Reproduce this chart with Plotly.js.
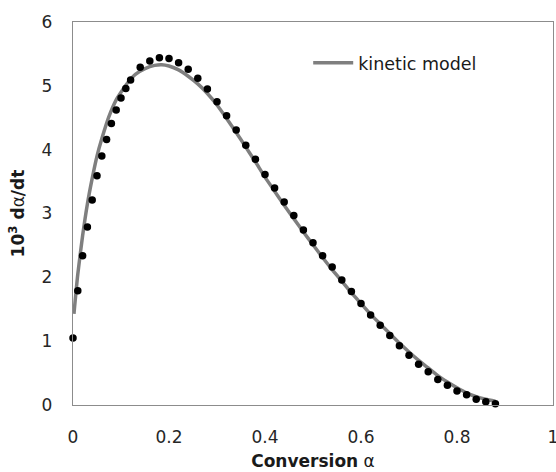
<!DOCTYPE html>
<html>
<head>
<meta charset="utf-8">
<script src="https://cdn.plot.ly/plotly-3.0.1.min.js"></script>
<style>html,body{margin:0;padding:0;background:#fff;}#chart{width:556px;height:472px;}</style>
</head>
<body>
<div id="chart"></div>
<script>
// experimental points
const alphaExp = [0, 0.01, 0.02, 0.03, 0.04, 0.05, 0.06, 0.07, 0.08, 0.09, 0.10, 0.11, 0.12,
  0.14, 0.16, 0.18, 0.20, 0.22, 0.24, 0.26, 0.28, 0.30, 0.32, 0.34, 0.36, 0.38, 0.40,
  0.42, 0.44, 0.46, 0.48, 0.50, 0.52, 0.54, 0.56, 0.58, 0.60, 0.62, 0.64, 0.66, 0.68,
  0.70, 0.72, 0.74, 0.76, 0.78, 0.80, 0.82, 0.84, 0.86, 0.88];
const rateExp = [1.05, 1.79, 2.34, 2.79, 3.21, 3.59, 3.90, 4.16, 4.41, 4.62, 4.81, 4.96, 5.09,
  5.29, 5.39, 5.44, 5.43, 5.36, 5.26, 5.12, 4.95, 4.75, 4.53, 4.31, 4.07, 3.85, 3.61,
  3.40, 3.18, 2.97, 2.74, 2.54, 2.34, 2.16, 1.96, 1.78, 1.59, 1.41, 1.25, 1.09, 0.93,
  0.78, 0.64, 0.52, 0.40, 0.31, 0.22, 0.16, 0.09, 0.05, 0.02];

// kinetic model curve
const alphaModel = [0.002, 0.01, 0.02, 0.03, 0.04, 0.05, 0.06, 0.075, 0.09, 0.10, 0.115, 0.13,
  0.15, 0.17, 0.185, 0.20, 0.22, 0.24, 0.26, 0.28, 0.30, 0.32, 0.34, 0.36, 0.38, 0.40,
  0.42, 0.44, 0.46, 0.48, 0.50, 0.52, 0.54, 0.56, 0.58, 0.60, 0.62, 0.64, 0.66, 0.68,
  0.70, 0.72, 0.74, 0.76, 0.78, 0.80, 0.82, 0.84, 0.86, 0.88];
const rateModel = [1.43, 2.05, 2.65, 3.15, 3.55, 3.90, 4.17, 4.52, 4.78, 4.90, 5.06, 5.18,
  5.27, 5.32, 5.33, 5.31, 5.25, 5.15, 5.03, 4.88, 4.70, 4.49, 4.27, 4.04, 3.81, 3.57,
  3.35, 3.13, 2.92, 2.71, 2.51, 2.31, 2.12, 1.94, 1.76, 1.59, 1.42, 1.27, 1.12, 0.97,
  0.83, 0.70, 0.58, 0.46, 0.36, 0.27, 0.19, 0.13, 0.09, 0.06];

const xTicks = [0, 0.2, 0.4, 0.6, 0.8, 1];
const xTickText = ['0', '0.2', '0.4', '0.6', '0.8', '1'];
const yTicks = [0, 1, 2, 3, 4, 5, 6];

const font = 'DejaVu Sans, Verdana, sans-serif';

const data = [
  {
    x: alphaModel, y: rateModel, mode: 'lines', name: 'kinetic model',
    line: {color: '#7f7f7f', width: 3.5, shape: 'spline', smoothing: 0.6},
    cliponaxis: false
  },
  {
    x: alphaExp, y: rateExp, mode: 'markers', showlegend: false,
    marker: {color: '#000', size: 7.5},
    cliponaxis: false
  }
];

const axisCommon = {
  showline: true, mirror: true, linecolor: '#8c8c8c', linewidth: 1.3,
  showgrid: false, zeroline: false, ticks: '',
  ticklabeloverflow: 'allow',
  tickfont: {family: font, size: 17, color: '#262626'}
};

const layout = {
  width: 556, height: 472,
  margin: {l: 73, r: 3, t: 22, b: 67},
  paper_bgcolor: '#fff', plot_bgcolor: '#fff',
  font: {family: font, color: '#262626'},
  xaxis: Object.assign({}, axisCommon, {
    range: [0, 1], tickvals: xTicks, ticktext: xTickText,
    ticklabelstandoff: 16,
    title: {text: '<b>Conversion</b> α', font: {family: font, size: 17, color: '#1a1a1a'}, standoff: 9}
  }),
  yaxis: Object.assign({}, axisCommon, {
    range: [0, 6], tickvals: yTicks,
    ticklabelstandoff: 16,
    title: {text: '<b>10<sup>3</sup> d</b>α<b>/dt</b>', font: {family: font, size: 17, color: '#1a1a1a'}, standoff: 12}
  }),
  showlegend: true,
  legend: {
    x: 0.49, y: 0.893, xanchor: 'left', yanchor: 'middle',
    bgcolor: 'rgba(0,0,0,0)', borderwidth: 0,
    font: {family: font, size: 17.5, color: '#1a1a1a'},
    itemwidth: 40
  }
};

Plotly.newPlot('chart', data, layout, {displayModeBar: false, staticPlot: true});
</script>
</body>
</html>
